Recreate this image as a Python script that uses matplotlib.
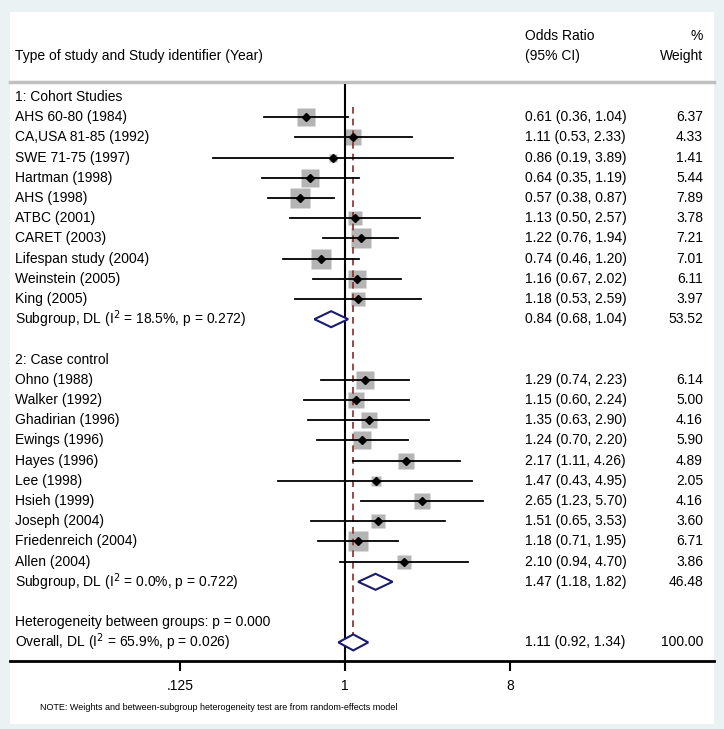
import numpy as np
import matplotlib.pyplot as plt
from matplotlib.patches import Rectangle, Polygon

plt.rcParams['font.family'] = ['Liberation Sans', 'DejaVu Sans']

cohort_names = ['AHS 60-80 (1984)', 'CA,USA 81-85 (1992)', 'SWE 71-75 (1997)', 'Hartman (1998)',
                'AHS (1998)', 'ATBC (2001)', 'CARET (2003)', 'Lifespan study (2004)',
                'Weinstein (2005)', 'King (2005)']
cohort_or = [0.61, 1.11, 0.86, 0.64, 0.57, 1.13, 1.22, 0.74, 1.16, 1.18]
cohort_lo = [0.36, 0.53, 0.19, 0.35, 0.38, 0.50, 0.76, 0.46, 0.67, 0.53]
cohort_hi = [1.04, 2.33, 3.89, 1.19, 0.87, 2.57, 1.94, 1.20, 2.02, 2.59]
cohort_w = [6.37, 4.33, 1.41, 5.44, 7.89, 3.78, 7.21, 7.01, 6.11, 3.97]

case_names = ['Ohno (1988)', 'Walker (1992)', 'Ghadirian (1996)', 'Ewings (1996)', 'Hayes (1996)',
              'Lee (1998)', 'Hsieh (1999)', 'Joseph (2004)', 'Friedenreich (2004)', 'Allen (2004)']
case_or = [1.29, 1.15, 1.35, 1.24, 2.17, 1.47, 2.65, 1.51, 1.18, 2.10]
case_lo = [0.74, 0.60, 0.63, 0.70, 1.11, 0.43, 1.23, 0.65, 0.71, 0.94]
case_hi = [2.23, 2.24, 2.90, 2.20, 4.26, 4.95, 5.70, 3.53, 1.95, 4.70]
case_w = [6.14, 5.00, 4.16, 5.90, 4.89, 2.05, 4.16, 3.60, 6.71, 3.86]

# pooled: (label, or, lo, hi, weight)
sub1 = ('Subgroup, DL (I$^2$ = 18.5%, p = 0.272)', 0.84, 0.68, 1.04, '53.52')
sub2 = ('Subgroup, DL (I$^2$ = 0.0%, p = 0.722)', 1.47, 1.18, 1.82, '46.48')
overall = ('Overall, DL (I$^2$ = 65.9%, p = 0.026)', 1.11, 0.92, 1.34, '100.00')
ticks = [0.125, 1, 8]
tick_labels = ['.125', '1', '8']

W, H = 724, 729
fig = plt.figure(figsize=(W / 100, H / 100), dpi=100, facecolor='#eaf2f3')
ax = fig.add_axes([0, 0, 1, 1])
ax.set_xscale('log', base=2)
ax.set_xlim(2 ** (-345 / 55), 2 ** ((W - 345) / 55))
ax.set_ylim(H, 0)
ax.axis('off')
tr = ax.get_yaxis_transform()

def fx(px):
    return px / W

ax.add_patch(Rectangle((fx(10), 12), fx(704), 712, transform=tr, facecolor='white',
                       edgecolor='none', zorder=0))

fs = 10
def row_y(r):
    return 97 + 20.2 * r

def left(y, s):
    ax.text(fx(15), y, s, transform=tr, fontsize=fs, va='center', ha='left')

def right_cols(y, o, lo, hi, w):
    ax.text(fx(525), y, '%.2f (%.2f, %.2f)' % (o, lo, hi), transform=tr, fontsize=fs,
            va='center', ha='left')
    ax.text(fx(703), y, w, transform=tr, fontsize=fs, va='center', ha='right')

# header
left(56, 'Type of study and Study identifier (Year)')
ax.text(fx(525), 36, 'Odds Ratio', transform=tr, fontsize=fs, va='center')
ax.text(fx(525), 56, '(95% CI)', transform=tr, fontsize=fs, va='center')
ax.text(fx(703), 36, '%', transform=tr, fontsize=fs, va='center', ha='right')
ax.text(fx(703), 56, 'Weight', transform=tr, fontsize=fs, va='center', ha='right')
ax.plot([fx(10), fx(714)], [82, 82], transform=tr, color='#c0c0c0', lw=2.5)

ax.vlines(1, 84, 661, color='black', lw=1.5, zorder=3)
ax.vlines(overall[1], 107, 655, color='#8b2a2a', lw=1.2, linestyles=(0, (4, 3)), zorder=3)

def study_rows(start, names, ors, los, his, ws):
    for i, (n, o, lo, hi, w) in enumerate(zip(names, ors, los, his, ws)):
        y = row_y(start + i)
        left(y, n)
        right_cols(y, o, lo, hi, '%.2f' % w)
        ax.plot(o, y, marker='s', color='#b4b4b4', ms=7.4 * np.sqrt(w) * 0.72,
                mec='none', zorder=2)
        ax.plot([lo, hi], [y, y], color='black', lw=1.3, zorder=4)
        ax.plot(o, y, marker='D', color='black', ms=4, zorder=5)

def diamond(r, d):
    y = row_y(r)
    left(y, d[0])
    right_cols(y, d[1], d[2], d[3], d[4])
    ax.add_patch(Polygon([(d[2], y), (d[1], y - 8), (d[3], y), (d[1], y + 8)],
                         closed=True, facecolor='white', edgecolor='#1a1a6e', lw=1.5, zorder=6))

left(row_y(0), '1: Cohort Studies')
study_rows(1, cohort_names, cohort_or, cohort_lo, cohort_hi, cohort_w)
diamond(11, sub1)
left(row_y(13), '2: Case control')
study_rows(14, case_names, case_or, case_lo, case_hi, case_w)
diamond(24, sub2)
left(row_y(26), 'Heterogeneity between groups: p = 0.000')
diamond(27, overall)

# x axis
ax.plot([fx(10), fx(714)], [661, 661], transform=tr, color='black', lw=2)
ax.vlines(ticks, 661, 671, color='black', lw=1.5)
for t, lab in zip(ticks, tick_labels):
    ax.text(t, 686, lab, fontsize=fs, ha='center', va='center')
ax.text(fx(40), 708, 'NOTE: Weights and between-subgroup heterogeneity test are from random-effects model',
        transform=tr, fontsize=6.5, va='center')

fig.savefig('out.png', dpi=100, facecolor=fig.get_facecolor())
